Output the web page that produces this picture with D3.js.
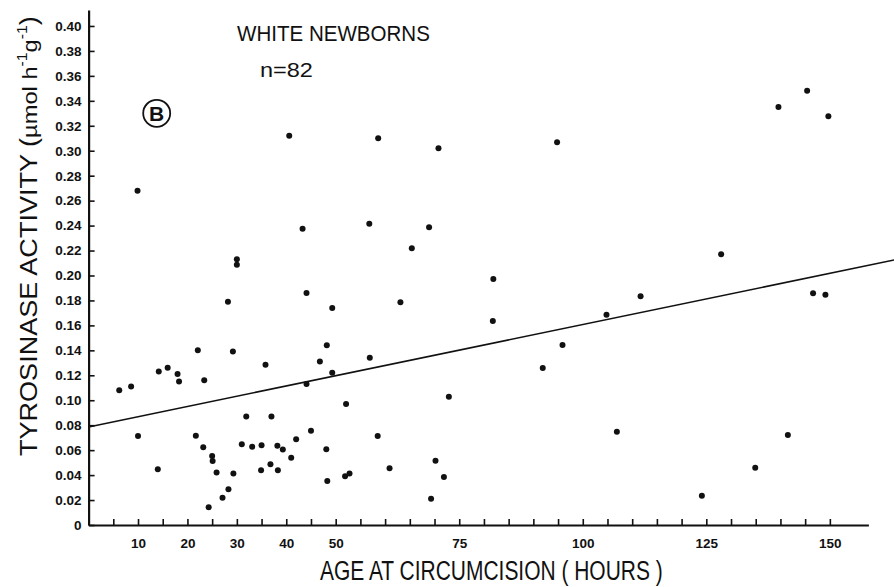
<!DOCTYPE html>
<html>
<head>
<meta charset="utf-8">
<script src="https://cdn.jsdelivr.net/npm/d3@7"></script>
<style>
  body { margin: 0; background: #fff; }
  svg { display: block; }
</style>
</head>
<body>
<svg id="chart" width="894" height="587"></svg>
<script>
// Age at circumcision (hours) and tyrosinase activity (umol h-1 g-1)
const ageHours = [
  40.6, 58.6, 70.8, 9.9, 43.3, 56.8, 30.0, 30.0, 44.1, 28.2,
  49.3, 48.2, 22.1, 29.2, 6.2, 8.6, 14.2, 16.0, 18.0, 18.3,
  23.4, 35.8, 46.8, 49.3, 56.9, 44.1, 52.1, 31.9, 37.0, 10.0,
  21.7, 23.2, 25.0, 25.1, 25.9, 29.3, 31.0, 33.1, 35.0, 38.2,
  39.3, 42.0, 45.0, 48.1, 41.0, 34.9, 36.8, 38.3, 14.0, 48.3,
  51.9, 52.8, 58.5, 60.9, 28.3, 27.1, 24.3, 63.1, 81.8, 104.8,
  95.9, 91.9, 72.9, 106.9, 141.5, 70.2, 71.9, 69.3, 134.9, 124.1,
  94.8, 139.6, 149.7, 68.9, 65.4, 81.9, 111.7, 128.0, 146.6, 149.1,
  145.4
];
const activity = [
  0.312, 0.310, 0.302, 0.268, 0.2375, 0.2415, 0.213, 0.2087, 0.186, 0.179,
  0.174, 0.144, 0.140, 0.139, 0.108, 0.111, 0.123, 0.126, 0.121, 0.115,
  0.116, 0.1285, 0.131, 0.122, 0.134, 0.113, 0.097, 0.087, 0.087, 0.0713,
  0.0716, 0.0623, 0.0553, 0.0513, 0.0421, 0.0413, 0.0647, 0.0628, 0.0639, 0.0636,
  0.0605, 0.0687, 0.0756, 0.0607, 0.0539, 0.0439, 0.0487, 0.0438, 0.0446, 0.0353,
  0.039, 0.0413, 0.0713, 0.0455, 0.0286, 0.0219, 0.0142, 0.1785, 0.1635, 0.1686,
  0.1443, 0.1259, 0.1028, 0.0748, 0.0721, 0.0515, 0.0385, 0.0211, 0.0459, 0.0235,
  0.3068, 0.3351, 0.3276, 0.2386, 0.2218, 0.1972, 0.1833, 0.217, 0.1857, 0.1846,
  0.348
];
// regression line end points [hours, activity]
const fitLineEnds = [[0, 0.0786], [163, 0.2124]];

const xTickHours = d3.range(5, 151, 5);
const xLabelHours = [10, 20, 30, 40, 50, 75, 100, 125, 150];
const yTickValues = [0, 0.02, 0.04, 0.06, 0.08, 0.10, 0.12, 0.14, 0.16, 0.18, 0.20,
  0.22, 0.24, 0.26, 0.28, 0.30, 0.32, 0.34, 0.36, 0.38, 0.40];

const FONT = '"Liberation Sans", Arial, Helvetica, sans-serif';
const INK = '#111';

const svg = d3.select('#chart');

const x = d3.scaleLinear().domain([0, 157.8]).range([88.6, 868.4]);
const y = d3.scaleLinear().domain([0, 0.4128]).range([525, 10]);

// squeeze a text element to a given width (the lettering is condensed)
function fitText(sel, width, tx, ty, rot) {
  const w = sel.node().getBBox().width;
  const sx = width / w;
  sel.attr('transform', `translate(${tx},${ty})` + (rot ? ` rotate(${rot})` : '') + ` scale(${sx},1)`);
}

// X axis
const xAxis = d3.axisBottom(x)
  .tickValues(xTickHours)
  .tickSizeInner(-6)
  .tickSizeOuter(0)
  .tickFormat(d => xLabelHours.includes(d) ? String(d) : '');

const gx = svg.append('g')
  .attr('transform', `translate(0,${y(0)})`)
  .call(xAxis);
gx.select('.domain').attr('stroke', INK).attr('stroke-width', 2.2);
gx.selectAll('.tick line').attr('stroke', INK).attr('stroke-width', 1.6);
gx.selectAll('.tick text')
  .attr('y', 23)
  .attr('dy', 0)
  .attr('fill', INK)
  .style('font-family', FONT)
  .style('font-size', '13.5px')
  .style('font-weight', 'bold');

// Y axis
const yAxis = d3.axisLeft(y)
  .tickValues(yTickValues)
  .tickSizeInner(-6)
  .tickSizeOuter(0)
  .tickPadding(7)
  .tickFormat(d => d === 0 ? '0' : d.toFixed(2));

const gy = svg.append('g')
  .attr('transform', `translate(${x(0)},0)`)
  .call(yAxis);
gy.select('.domain').attr('stroke', INK).attr('stroke-width', 2.2);
gy.selectAll('.tick line').attr('stroke', INK).attr('stroke-width', 1.6);
gy.selectAll('.tick text')
  .attr('fill', INK)
  .style('font-family', FONT)
  .style('font-size', '13.5px')
  .style('font-weight', 'bold');

// Regression line
svg.append('path')
  .datum(fitLineEnds)
  .attr('d', d3.line().x(d => x(d[0])).y(d => y(d[1])))
  .attr('fill', 'none')
  .attr('stroke', INK)
  .attr('stroke-width', 1.6);

// Points
svg.append('g')
  .selectAll('circle')
  .data(ageHours.map((h, i) => [h, activity[i]]))
  .join('circle')
  .attr('cx', d => x(d[0]))
  .attr('cy', d => y(d[1]))
  .attr('r', 3)
  .attr('fill', INK);

// Axis titles
const xTitle = svg.append('text')
  .attr('fill', INK)
  .style('font-family', FONT)
  .style('font-size', '28px')
  .text('AGE AT CIRCUMCISION ( HOURS )');
fitText(xTitle, 343, 320, 580);

const yTitle = svg.append('text')
  .attr('fill', INK)
  .style('font-family', FONT)
  .style('font-size', '24px');
yTitle.append('tspan').text('TYROSINASE ACTIVITY (');
yTitle.append('tspan').style('font-size', '21px').text('\u00b5mol h');
yTitle.append('tspan').style('font-size', '14px').attr('dy', -10).text('-1');
yTitle.append('tspan').style('font-size', '21px').attr('dy', 10).text('g');
yTitle.append('tspan').style('font-size', '14px').attr('dy', -10).text('-1');
yTitle.append('tspan').attr('dy', 10).text(')');
fitText(yTitle, 440, 36.5, 456, -90);

// Panel annotations
const title = svg.append('text')
  .attr('fill', INK)
  .style('font-family', FONT)
  .style('font-size', '22px')
  .text('WHITE NEWBORNS');
fitText(title, 193, 237, 41);

const nText = svg.append('text')
  .attr('fill', INK)
  .style('font-family', FONT)
  .style('font-size', '21px')
  .text('n=82');
fitText(nText, 53, 260, 77);

svg.append('circle')
  .attr('cx', 156.7)
  .attr('cy', 113.3)
  .attr('r', 13.5)
  .attr('fill', 'none')
  .attr('stroke', INK)
  .attr('stroke-width', 1.8);
svg.append('text')
  .attr('x', 156.7)
  .attr('y', 121)
  .attr('text-anchor', 'middle')
  .attr('fill', INK)
  .style('font-family', FONT)
  .style('font-size', '21px')
  .style('font-weight', 'bold')
  .text('B');
</script>
</body>
</html>
